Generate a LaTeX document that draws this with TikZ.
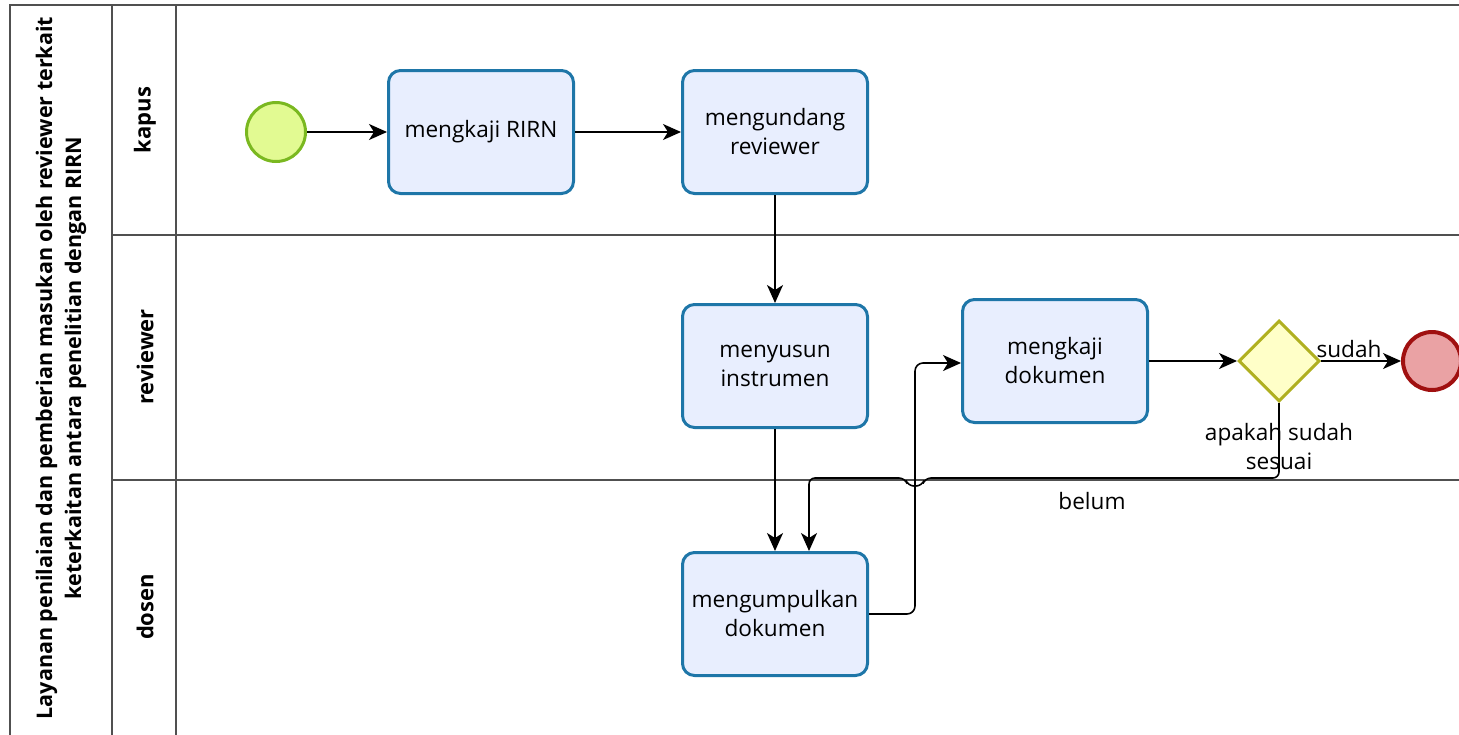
\documentclass[tikz,border=0pt]{standalone}
\usepackage{fontspec}
\setmainfont{Open Sans}
\usepackage{tikz}
\usetikzlibrary{shapes.geometric,arrows.meta,positioning}
\definecolor{taskfill}{RGB}{232,238,254}
\definecolor{taskline}{RGB}{ 30,118,168}
\definecolor{startfill}{RGB}{226,250,146}
\definecolor{startline}{RGB}{122,184, 32}
\definecolor{endfill}{RGB}{234,162,164}
\definecolor{endline}{RGB}{160, 16, 16}
\definecolor{gatefill}{RGB}{255,255,200}
\definecolor{gateline}{RGB}{176,176, 32}
\definecolor{laneline}{RGB}{ 80, 80, 80}
\tikzset{
  task/.style   ={rectangle,draw=taskline,fill=taskfill,line width=1.5pt,
                  rounded corners=6pt,minimum width=92.5pt,minimum height=61.5pt,
                  align=center,font=\fontsize{11.3}{14.5}\selectfont},
  startev/.style={circle,draw=startline,fill=startfill,line width=1.5pt,
                  minimum size=29.5pt,inner sep=0pt},
  endev/.style  ={circle,draw=endline,fill=endfill,line width=2pt,
                  minimum size=29pt,inner sep=0pt},
  gate/.style   ={diamond,draw=gateline,fill=gatefill,line width=1.5pt,
                  minimum size=40.5pt,inner sep=0pt},
  flow/.style   ={-{Stealth[length=9pt,width=8pt,inset=2.5pt]},line width=0.8pt},
  lbl/.style    ={font=\fontsize{11.3}{14.5}\selectfont,inner sep=1pt},
  lane/.style   ={draw=laneline,line width=0.8pt},
  lanetxt/.style={rotate=90,font=\fontsize{11}{14.5}\selectfont\bfseries},
}

\begin{document}
\begin{tikzpicture}[x=0.5pt,y=-0.5pt]
  \useasboundingbox (0,0) rectangle (1459,734);
  % pool and lanes
  \draw[lane] (1470,5) -- (10,5) -- (10,745);
  \draw[lane] (112,5) -- (112,745);
  \draw[lane] (176,5) -- (176,745);
  \draw[lane] (112,235) -- (1470,235);
  \draw[lane] (112,480) -- (1470,480);
  \node[lanetxt,align=center,font=\fontsize{10.75}{14.5}\selectfont\bfseries] (pool) at (61,368)
    {Layanan penilaian dan pemberian masukan oleh reviewer terkait\\
     keterkaitan antara penelitian dengan RIRN};
  \node[lanetxt] (kapus)    at (145,120) {kapus};
  \node[lanetxt] (reviewer) at (145,357) {reviewer};
  \node[lanetxt] (dosen)    at (145,607) {dosen};

  % flow objects
  \node[startev] (start) at (276,132) {};
  \node[task,right=40pt of start]  (kaji)    {mengkaji RIRN};
  \node[task,right=53pt of kaji]   (undang)  {mengundang\\reviewer};
  \node[task,below=54pt of undang] (susun)   {menyusun\\instrumen};
  \node[task,below=61pt of susun]  (kumpul)  {mengumpulkan\\dokumen};
  \node[task] (kajidok) at (1055,361)        {mengkaji\\dokumen};
  \node[gate,right=44pt of kajidok] (cek)    {};
  \node[endev,right=40pt of cek]   (finish)  {};
  \node[lbl,below=9pt of cek,align=center] (cektxt) {apakah sudah\\sesuai};

  % sequence flows
  \draw[flow] (start)  -- (kaji);
  \draw[flow] (kaji)   -- (undang);
  \draw[flow] (undang) -- (susun);
  \draw[flow] (susun)  -- (kumpul);
  \draw[flow,rounded corners=4pt] (kumpul.east) -- ++(46,0) |- ([yshift=-1pt]kajidok.west);
  \draw[flow] (kajidok) -- (cek);
  \draw[flow] (cek) -- node[lbl,above,pos=0.35]{sudah} (finish);
  \coordinate (belumin) at ([xshift=17pt]kumpul.north);
  \draw[flow,rounded corners=3pt] (cek.south) |- (925,478)
    -- (922,486) -- (908,486) -- (905,478) -| (belumin);
  \node[lbl] (belumtxt) at (1092,501) {belum};
\end{tikzpicture}
\end{document}
